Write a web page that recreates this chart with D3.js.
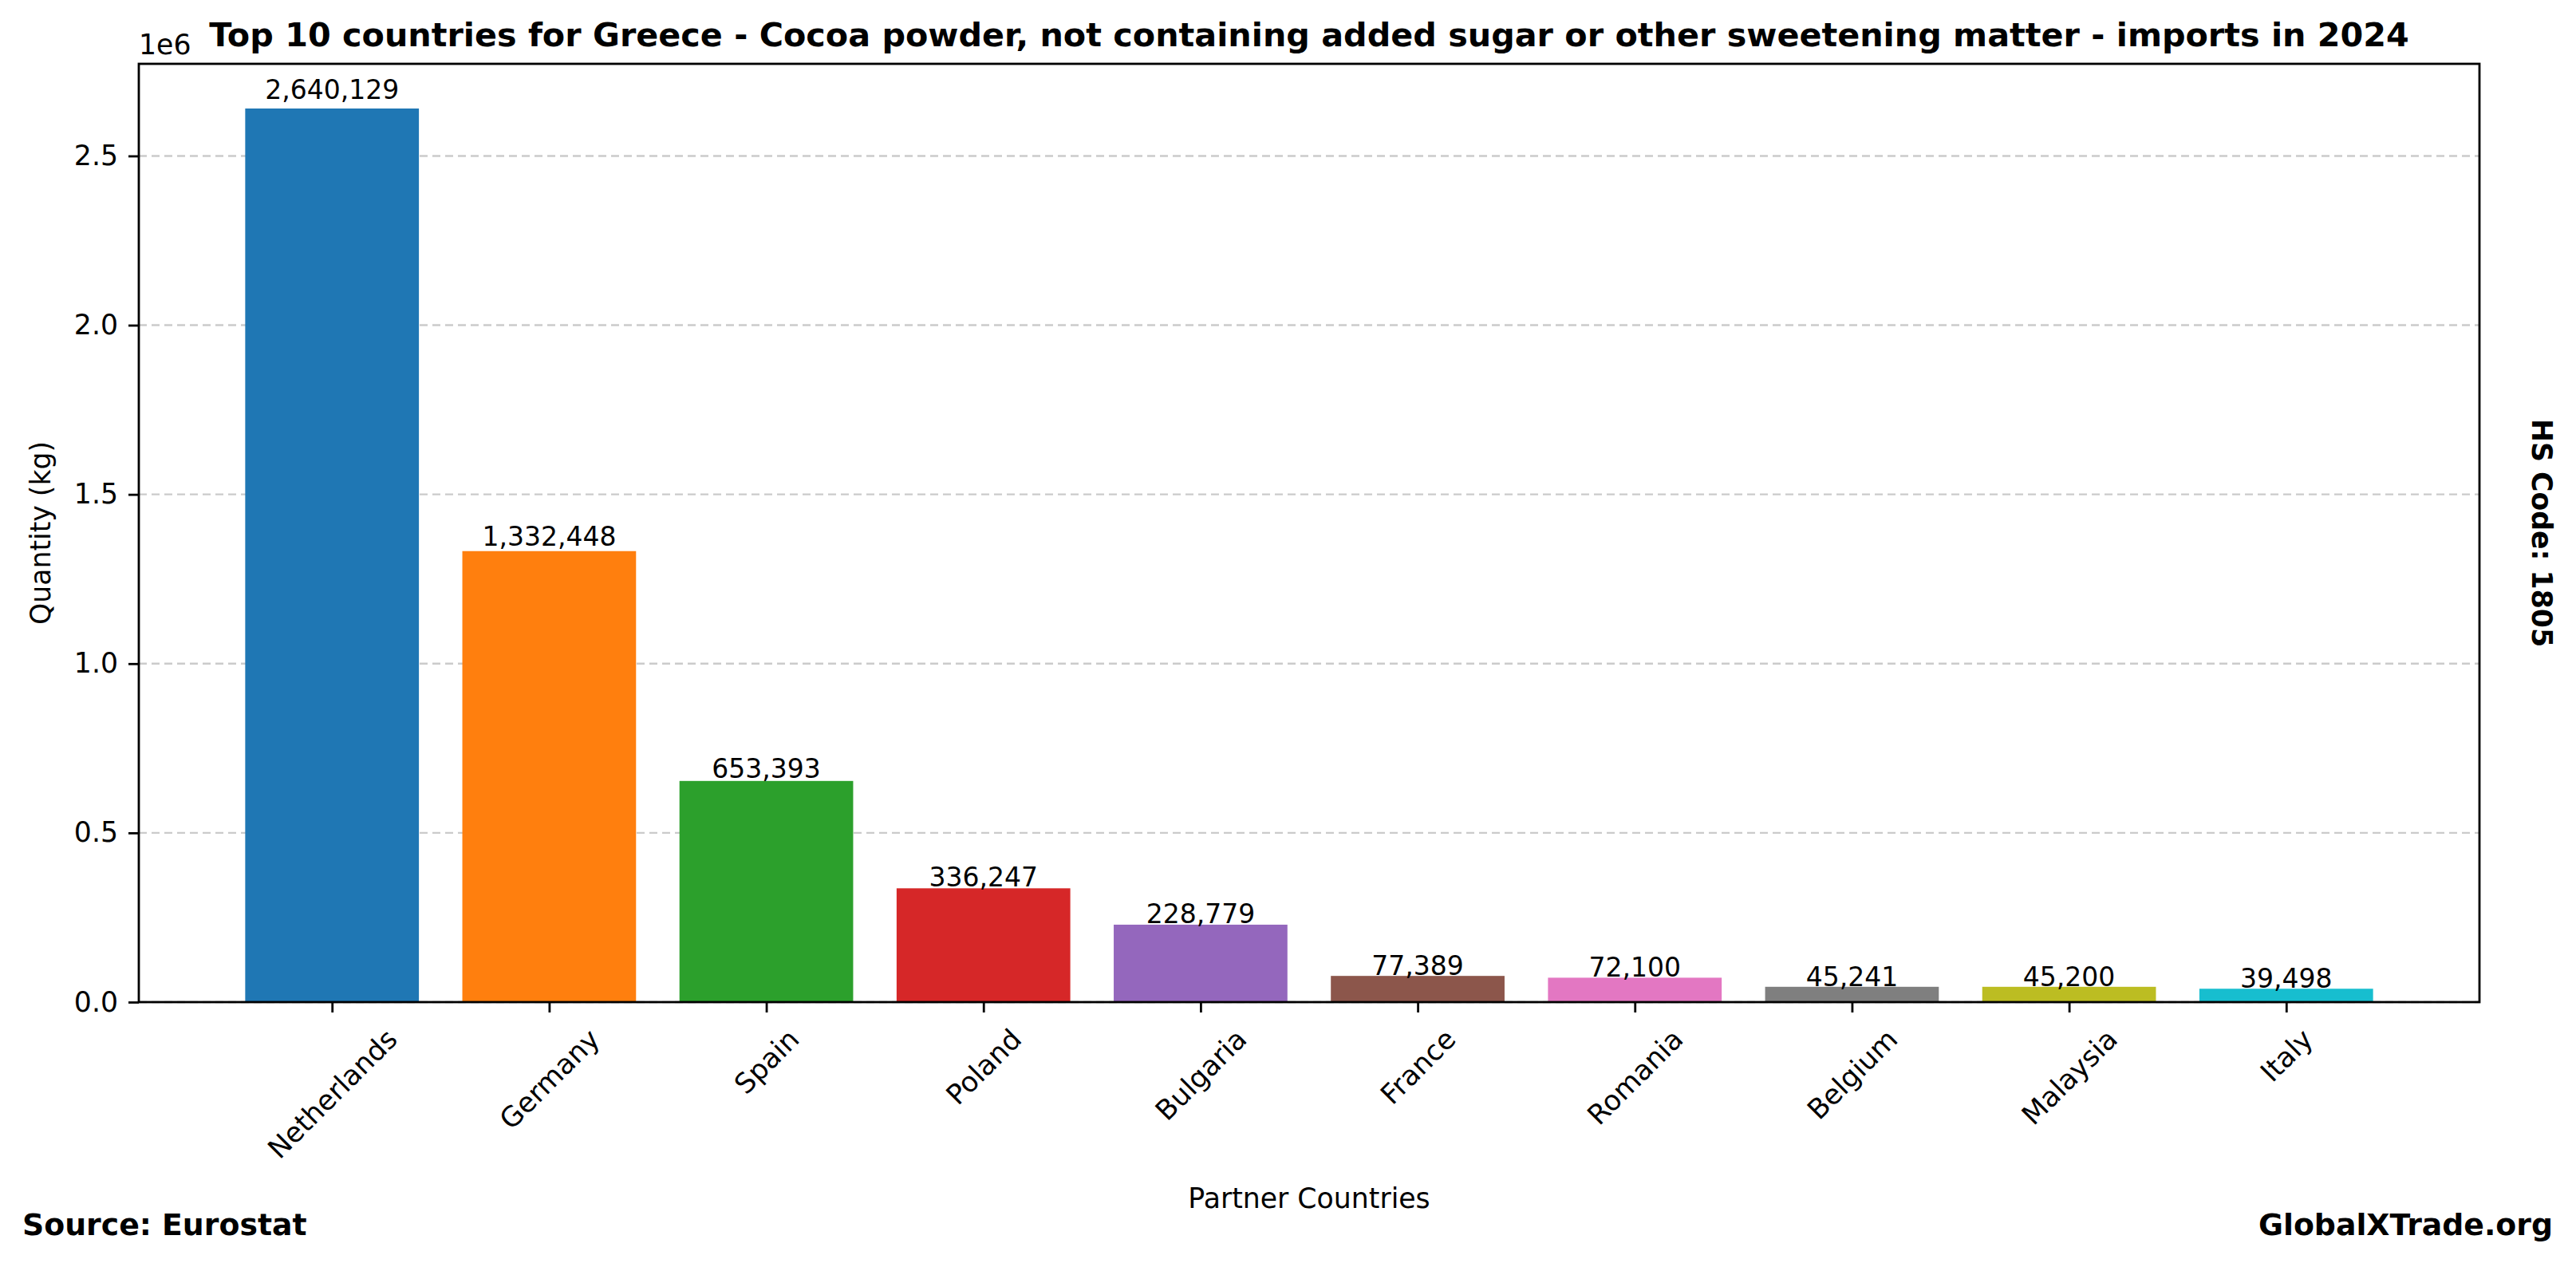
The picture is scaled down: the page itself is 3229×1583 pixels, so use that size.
<!DOCTYPE html>
<html>
<head>
<meta charset="utf-8">
<script src="https://cdn.jsdelivr.net/npm/d3@7"></script>
<style>
  body { margin: 0; background: #fff; }
  text { font-family: "DejaVu Sans", sans-serif; fill: #000; }
</style>
</head>
<body>
<div id="chart"></div>
<script>
var countries = ["Netherlands", "Germany", "Spain", "Poland", "Bulgaria", "France", "Romania", "Belgium", "Malaysia", "Italy"];
var quantities = [2640129, 1332448, 653393, 336247, 228779, 77389, 72100, 45241, 45200, 39498];
var barColors = ["#1f77b4", "#ff7f0e", "#2ca02c", "#d62728", "#9467bd", "#8c564b", "#e377c2", "#7f7f7f", "#bcbd22", "#17becf"];
var yTicks = [0, 0.5e6, 1.0e6, 1.5e6, 2.0e6, 2.5e6];

var W = 3229, H = 1583;
var margin = {top: 80, right: 3229 - 3108, bottom: 1583 - 1256, left: 174};
var width = W - margin.left - margin.right;
var height = H - margin.top - margin.bottom;

var svg = d3.select("#chart").append("svg")
    .attr("width", W)
    .attr("height", H);

var g = svg.append("g")
    .attr("transform", "translate(" + margin.left + "," + margin.top + ")");

// matplotlib-like x limits: bars at 0..n-1, width 0.8, 5% margins
var n = countries.length;
var span = (n - 1) + 0.8;
var x = d3.scaleLinear()
    .domain([-0.4 - span * 0.05, n - 1 + 0.4 + span * 0.05])
    .range([0, width]);
var y = d3.scaleLinear()
    .domain([0, d3.max(quantities) * 1.05])
    .range([height, 0]);

// grid
g.append("g")
    .selectAll("line")
    .data(yTicks)
    .enter().append("line")
    .attr("x1", 0).attr("x2", width)
    .attr("y1", function(d) { return y(d); })
    .attr("y2", function(d) { return y(d); })
    .attr("stroke", "#cbcbcb")
    .attr("stroke-width", 2.4)
    .attr("stroke-dasharray", "10,6");

// bars
g.append("g")
    .selectAll("rect")
    .data(quantities)
    .enter().append("rect")
    .attr("x", function(d, i) { return x(i - 0.4); })
    .attr("width", x(0.4) - x(-0.4))
    .attr("y", function(d) { return y(d); })
    .attr("height", function(d) { return height - y(d); })
    .attr("fill", function(d, i) { return barColors[i]; });

// bar labels, sitting just above value * 1.01
g.append("g")
    .selectAll("text")
    .data(quantities)
    .enter().append("text")
    .attr("x", function(d, i) { return x(i); })
    .attr("y", function(d) { return y(d * 1.01) - 1; })
    .attr("text-anchor", "middle")
    .attr("font-size", 33)
    .text(function(d) { return d3.format(",")(d); });

// y axis
var yAxis = g.append("g")
    .call(d3.axisLeft(y).tickValues(yTicks).tickSize(13).tickPadding(13)
        .tickFormat(function(d) { return (d / 1e6).toFixed(1); }));
yAxis.select(".domain").remove();
yAxis.selectAll(".tick line").attr("stroke", "#000").attr("stroke-width", 2.8);
yAxis.selectAll(".tick text").attr("font-size", 34.7).attr("font-family", "DejaVu Sans");

// x axis
var xAxis = g.append("g")
    .attr("transform", "translate(0," + height + ")")
    .call(d3.axisBottom(x).tickValues(d3.range(n)).tickSize(13)
        .tickFormat(function(d) { return countries[d]; }));
xAxis.select(".domain").remove();
xAxis.selectAll(".tick line").attr("stroke", "#000").attr("stroke-width", 2.8);

var fs = 34.7;
xAxis.selectAll(".tick text")
    .attr("font-size", fs)
    .attr("font-family", "DejaVu Sans")
    .attr("text-anchor", "middle")
    .attr("dy", null)
    .attr("y", 0.346 * fs)
    .each(function() {
        var w = this.getComputedTextLength();
        var side = (w + 1.164 * fs) / Math.SQRT2;
        d3.select(this).attr("transform",
            "translate(0," + (26 + side / 2) + ") rotate(-45)");
    });

// frame
g.append("rect")
    .attr("width", width)
    .attr("height", height)
    .attr("fill", "none")
    .attr("stroke", "#000")
    .attr("stroke-width", 2.8);

// offset label
g.append("text")
    .attr("x", 0)
    .attr("y", -12)
    .attr("font-size", fs)
    .text("1e6");

// title
svg.append("text")
    .attr("x", margin.left + width / 2)
    .attr("y", 58)
    .attr("text-anchor", "middle")
    .attr("font-size", 41.3)
    .attr("font-weight", "bold")
    .text("Top 10 countries for Greece - Cocoa powder, not containing added sugar or other sweetening matter - imports in 2024");

// axis labels
svg.append("text")
    .attr("x", margin.left + width / 2)
    .attr("y", 1514)
    .attr("text-anchor", "middle")
    .attr("font-size", fs)
    .text("Partner Countries");

svg.append("text")
    .attr("transform", "translate(63," + (margin.top + height / 2) + ") rotate(-90)")
    .attr("text-anchor", "middle")
    .attr("font-size", fs)
    .text("Quantity (kg)");

svg.append("text")
    .attr("transform", "translate(3174," + (margin.top + height / 2) + ") rotate(90)")
    .attr("text-anchor", "middle")
    .attr("font-size", fs)
    .attr("font-weight", "bold")
    .text("HS Code: 1805");

// footer
svg.append("text")
    .attr("x", 28)
    .attr("y", 1548)
    .attr("font-size", 37.8)
    .attr("font-weight", "bold")
    .text("Source: Eurostat");

svg.append("text")
    .attr("x", 3200)
    .attr("y", 1548)
    .attr("text-anchor", "end")
    .attr("font-size", 37.8)
    .attr("font-weight", "bold")
    .text("GlobalXTrade.org");
</script>
</body>
</html>
